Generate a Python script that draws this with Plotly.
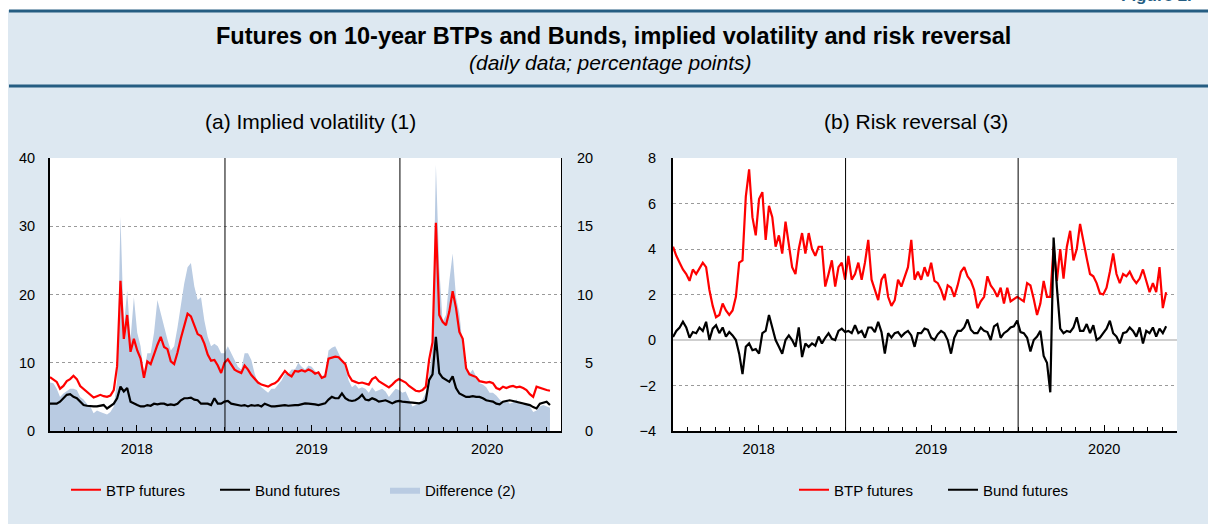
import plotly.graph_objects as go
import pandas as pd

W, H = 1208, 524


def fx(px):
    return px / W


def fy(py):
    return 1 - py / H


# ---------------- data (weekly readings, Jan 2018 - Nov 2020) ----------------
dates = pd.date_range("2018-01-01", periods=150, freq="7D")

btp_vol = [
    7.9, 7.5, 7.2, 6.2, 6.6, 7.3, 7.6, 8.1, 7.6, 6.6,
    6.2, 5.8, 5.4, 4.9, 5.1, 5.3, 5.1, 5.0, 5.2, 6.0,
    9.5, 22.0, 13.5, 17.0, 11.6, 13.5, 11.8, 10.6, 7.8, 10.2,
    9.8, 11.3, 12.6, 13.8, 12.3, 12.0, 10.2, 9.8, 11.5, 13.6,
    15.6, 17.2, 16.8, 15.5, 14.2, 13.9, 12.8, 11.2, 10.3, 10.4,
    9.6, 8.5, 10.0, 10.5, 9.7, 9.0, 8.7, 8.5, 9.6, 9.0,
    8.2, 7.6, 7.1, 6.8, 6.6, 6.5, 6.8, 7.0, 7.4, 8.2,
    8.8, 8.3, 8.0, 8.8, 8.7, 8.9, 8.7, 9.0, 8.8, 8.4,
    8.6, 7.8, 8.0, 10.6, 10.7, 10.9, 10.8, 10.3, 9.8, 8.2,
    7.4, 7.2, 7.0, 7.1, 6.9, 6.8, 7.6, 7.9, 7.3, 7.0,
    6.6, 6.4, 6.8, 7.3, 7.6, 7.3, 7.1, 6.6, 6.2, 5.9,
    5.8, 6.0, 6.5, 10.5, 13.0, 30.5, 17.0, 16.0, 15.5, 17.5,
    20.5, 18.0, 14.5, 13.5, 9.2, 8.3, 8.1, 7.9, 7.3, 7.2,
    7.1, 7.2, 7.0, 6.3, 6.1, 6.5, 6.3, 6.5, 6.6, 6.4,
    6.5, 6.3, 6.0, 5.4, 5.0, 6.5, 6.3, 6.2, 6.0, 5.9,
]

bund_vol = [
    4.0, 4.0, 4.0, 4.3, 4.8, 5.3, 5.4, 5.0, 4.8, 4.3,
    3.8, 3.7, 3.6, 3.6, 3.6, 3.7, 3.8, 3.3, 3.6, 4.0,
    4.8, 6.5, 5.8, 6.3, 4.3, 4.0, 3.8, 3.6, 3.6, 3.8,
    3.7, 4.0, 3.9, 4.0, 4.0, 3.8, 3.9, 3.8, 4.0, 4.5,
    4.8, 4.8, 4.9, 4.6, 4.5, 4.0, 4.0, 4.0, 3.8, 4.8,
    4.0, 4.0, 4.3, 4.4, 4.0, 3.9, 3.8, 3.7, 3.8, 3.6,
    3.8, 3.7, 3.8, 3.6, 4.0, 3.8, 3.6, 3.6, 3.7, 3.8,
    3.8, 3.7, 3.8, 3.8, 3.8, 3.9, 4.05, 4.0, 4.0, 3.9,
    3.8, 3.9, 4.05, 4.6, 5.0, 4.8, 4.8, 5.5, 4.8, 4.5,
    4.4, 4.5, 4.8, 5.3, 4.6, 4.5, 4.8, 4.6, 4.3, 4.4,
    4.5, 4.3, 4.05, 4.3, 4.4, 4.3, 4.3, 4.2, 4.15, 4.1,
    4.05, 4.2, 4.5, 7.5, 8.3, 13.8, 8.5, 7.8, 7.5, 7.2,
    8.0, 6.3, 5.5, 5.2, 5.0, 5.0, 5.1, 5.0, 5.0, 4.8,
    4.5, 4.4, 4.3, 4.0, 3.9, 4.3, 4.4, 4.5, 4.4, 4.3,
    4.2, 4.05, 3.9, 3.8, 3.5, 3.3, 4.0, 4.2, 4.3, 3.8,
]

diff_vol = [
    3.55, 3.5, 3.1, 2.5, 2.75, 2.9, 3.1, 3.1, 3.0, 2.5,
    2.3, 2.0, 1.8, 1.3, 1.5, 1.4, 1.3, 1.2, 1.4, 1.8,
    3.7, 15.7, 7.6, 10.3, 6.7, 9.8, 7.2, 6.2, 4.2, 5.7,
    5.7, 7.2, 9.6, 8.6, 7.6, 6.7, 5.9, 6.2, 7.6, 9.4,
    10.8, 12.0, 12.3, 10.6, 9.6, 9.8, 8.1, 6.9, 6.2, 6.4,
    6.2, 5.7, 5.7, 6.2, 5.7, 5.1, 4.7, 4.5, 5.7, 5.7,
    5.2, 4.2, 3.5, 3.2, 3.0, 2.8, 3.1, 3.1, 3.4, 3.7,
    4.2, 4.2, 4.5, 4.5, 5.0, 4.7, 4.5, 4.8, 4.7, 4.4,
    4.2, 4.0, 4.2, 5.9, 6.1, 6.2, 5.7, 5.2, 4.7, 3.7,
    3.2, 3.4, 3.1, 3.2, 3.1, 2.8, 3.2, 2.9, 3.0, 3.1,
    2.9, 2.5, 2.8, 3.1, 3.0, 2.8, 2.9, 2.4, 1.8, 1.9,
    2.0, 2.3, 2.8, 4.2, 6.0, 19.5, 12.0, 8.0, 8.5, 11.0,
    13.0, 9.8, 8.6, 6.2, 4.7, 4.2, 4.5, 4.0, 3.5, 3.4,
    3.2, 2.8, 2.8, 2.6, 2.3, 2.1, 2.3, 2.0, 2.1, 2.3,
    2.0, 1.9, 2.0, 1.8, 1.4, 1.5, 1.8, 1.9, 1.8, 1.7,
]

btp_rr = [
    4.1, 3.7, 3.4, 3.1, 2.9, 2.6, 3.1, 2.9, 3.15, 3.4,
    3.2, 2.2, 1.5, 1.0, 1.1, 1.6, 1.3, 1.1, 1.3, 1.9,
    3.4, 3.5, 6.3, 7.5, 5.4, 4.6, 6.2, 6.5, 4.4, 5.9,
    5.4, 4.1, 4.6, 3.8, 5.2, 4.3, 3.2, 2.9, 4.0, 4.7,
    3.8, 4.7, 4.0, 3.7, 4.1, 4.1, 2.35, 2.9, 3.5, 2.35,
    3.2, 3.4, 2.65, 3.7, 2.65, 2.9, 3.4, 2.65, 3.4, 4.4,
    2.65, 2.2, 1.75, 2.65, 2.9, 1.9, 1.5, 1.75, 2.65, 2.35,
    2.8, 3.2, 4.4, 2.65, 3.0, 2.65, 3.2, 2.8, 3.4, 2.6,
    2.5, 2.2, 1.75, 2.4, 2.3, 1.9, 2.4, 3.0, 3.2, 2.8,
    2.6, 2.2, 1.4, 1.7, 1.9, 2.8, 2.4, 2.2, 1.9, 2.3,
    1.6, 2.3, 1.7, 1.8, 1.9, 1.8, 1.7, 2.5, 2.4, 1.8,
    1.1, 1.6, 2.6, 1.9, 1.9, 4.1, 2.6, 4.0, 2.7, 4.1,
    4.8, 3.5, 4.0, 5.1, 4.3, 3.6, 2.9, 2.8, 2.5, 2.05,
    2.0, 2.3, 3.0, 3.8, 2.9, 2.5, 2.9, 2.8, 3.0, 2.7,
    2.5, 2.7, 3.1, 2.6, 2.1, 2.5, 2.1, 3.2, 1.4, 2.1,
]

bund_rr = [
    0.13, 0.4, 0.55, 0.8, 0.55, 0.1, 0.35, 0.3, 0.55, 0.4,
    0.8, 0.0, 0.5, 0.65, 0.3, 0.55, 0.15, 0.35, 0.2, 0.0,
    -0.6, -1.5, -0.3, -0.15, -0.45, -0.4, -0.6, 0.3, 0.4, 1.1,
    0.55, 0.0, -0.3, -0.6, 0.0, 0.2, 0.0, -0.3, 0.55, -0.75,
    -0.15, -0.3, -0.15, -0.25, 0.15, -0.15, 0.1, 0.3, 0.05, 0.0,
    0.4, 0.5, 0.35, 0.4, 0.3, 0.65, 0.3, 0.4, 0.1, 0.55,
    0.55, 0.35, 0.8, 0.35, -0.6, 0.3, 0.1, 0.3, 0.35, 0.15,
    0.3, 0.4, 0.2, -0.3, 0.3, 0.3, 0.5, 0.45, 0.1, 0.0,
    0.25, 0.4, 0.3, 0.0, -0.6, 0.1, 0.4, 0.4, 0.55, 0.9,
    0.45, 0.3, 0.3, 0.55, 0.4, 0.35, 0.0, 0.6, 0.7, 0.1,
    0.3, 0.4, 0.55, 0.6, 0.85, 0.35, 0.3, 0.1, -0.5, 0.0,
    0.15, 0.4, -0.7, -1.0, -2.3, 4.5, 2.3, 0.5, 0.3, 0.4,
    0.35, 0.55, 1.0, 0.4, 0.4, 0.7, 0.3, 0.65, 0.0, 0.1,
    0.3, 0.5, 0.85, 0.3, 0.15, -0.15, 0.3, 0.35, 0.55, 0.4,
    0.15, 0.55, -0.15, 0.4, 0.3, 0.55, 0.15, 0.5, 0.3, 0.6,
]

year_ticks = ["2018-07-01", "2019-07-01", "2020-07-01"]
year_labels = ["2018", "2019", "2020"]
year_breaks = ["2019-01-01", "2020-01-01"]
x_range = ["2018-01-01", "2020-12-02"]

vol_left_ticks = [0, 10, 20, 30, 40]
vol_right_ticks = [0, 5, 10, 15, 20]
rr_ticks = [-4, -2, 0, 2, 4, 6, 8]

# ---------------- styles ----------------
RED = "#ff0000"
BLACK = "#000000"
AREA = "#b9cbe2"
BG = "#dde8f1"
NAVY = "#255d82"
GRID = "#9a9a9a"
FONT = "Liberation Sans, Arial, Helvetica, sans-serif"
TICK_SIZE = 14.5
FIG_SP = "\u2007"   # figure space (digit width)
PUNC_SP = "\u2008"  # punctuation space (about a hyphen wide)


def right_aligned(vals):
    """Pad labels so that right-side tick labels line up on the right."""
    has_neg = any(v < 0 for v in vals)
    width = max(len(str(abs(v))) for v in vals)
    out = []
    for v in vals:
        s = str(abs(v))
        pad = FIG_SP * (width - len(s))
        sign = "-" if v < 0 else (PUNC_SP if has_neg else "")
        out.append(pad + sign + s)
    return out


fig = go.Figure()

# ---- panel (a): implied volatility ----
fig.add_trace(go.Scatter(
    x=dates, y=diff_vol, xaxis="x", yaxis="y", mode="lines",
    fill="tozeroy", fillcolor=AREA, line=dict(width=0, color=AREA),
    name="Difference (2)", legend="legend3", hoverinfo="skip"))
fig.add_trace(go.Scatter(
    x=dates, y=bund_vol, xaxis="x", yaxis="y2", mode="lines",
    line=dict(color=BLACK, width=2.2), name="Bund futures", legend="legend2"))
fig.add_trace(go.Scatter(
    x=dates, y=btp_vol, xaxis="x", yaxis="y2", mode="lines",
    line=dict(color=RED, width=2.2), name="BTP futures", legend="legend"))

# ---- panel (b): risk reversal ----
fig.add_trace(go.Scatter(
    x=dates, y=btp_rr, xaxis="x2", yaxis="y3", mode="lines",
    line=dict(color=RED, width=2.2), name="BTP futures", legend="legend4"))
fig.add_trace(go.Scatter(
    x=dates, y=bund_rr, xaxis="x2", yaxis="y3", mode="lines",
    line=dict(color=BLACK, width=2.2), name="Bund futures", legend="legend5"))

ydom = [fy(431), fy(158)]
tickfont = dict(size=TICK_SIZE, color=BLACK)

xcommon = dict(
    type="date", range=x_range, tickmode="array", tickvals=year_ticks,
    ticktext=year_labels, ticks="inside", ticklen=6, tickcolor=BLACK,
    tickwidth=1, showgrid=False, zeroline=False, showline=True,
    linecolor=BLACK, linewidth=2, mirror=False, automargin=False,
    tickfont=tickfont, ticklabelstandoff=4,
    minor=dict(tickmode="linear", tick0="2018-01-01", dtick="M1",
               ticks="inside", ticklen=4, tickcolor=BLACK, tickwidth=1,
               showgrid=False),
)

fig.update_layout(
    xaxis=dict(domain=[fx(50), fx(561)], anchor="y", **xcommon),
    yaxis=dict(domain=ydom, anchor="x", side="right", range=[0, 20],
               tickmode="array", tickvals=vol_right_ticks,
               ticktext=right_aligned(vol_right_ticks), ticks="",
               showgrid=False, zeroline=False, showline=True,
               linecolor=BLACK, linewidth=1, automargin=False,
               tickfont=tickfont, ticklabelstandoff=12),
    yaxis2=dict(overlaying="y", side="left", anchor="x", range=[0, 40],
                tickmode="array", tickvals=vol_left_ticks, ticks="",
                showgrid=True, gridcolor=GRID, griddash="dot", gridwidth=1,
                zeroline=False, showline=True, linecolor=BLACK, linewidth=2,
                automargin=False, tickfont=tickfont, ticklabelstandoff=10),
    xaxis2=dict(domain=[fx(673), fx(1177)], anchor="y3", **xcommon),
    yaxis3=dict(domain=ydom, anchor="x2", range=[-4, 8], tickmode="array",
                tickvals=rr_ticks, ticks="", showgrid=True, gridcolor=GRID,
                griddash="dot", gridwidth=1, zeroline=True,
                zerolinecolor="#cfcfcf", zerolinewidth=2, showline=True,
                linecolor=BLACK, linewidth=2, automargin=False,
                tickfont=tickfont, ticklabelstandoff=12),
    yaxis4=dict(overlaying="y3", side="right", anchor="x2", range=[-4, 8],
                tickmode="array", tickvals=rr_ticks,
                ticktext=right_aligned(rr_ticks), ticks="", showgrid=False,
                zeroline=False, showline=True, linecolor=BLACK, linewidth=1,
                automargin=False, tickfont=tickfont, ticklabelstandoff=14),
)

legend_common = dict(orientation="h", yanchor="middle", y=fy(490),
                     xanchor="left", bgcolor="rgba(0,0,0,0)", borderwidth=0,
                     font=dict(size=15, color=BLACK, family=FONT))
fig.update_layout(
    legend=dict(x=fx(66), **legend_common),
    legend2=dict(x=fx(215), **legend_common),
    legend3=dict(x=fx(385), **legend_common),
    legend4=dict(x=fx(794), **legend_common),
    legend5=dict(x=fx(943), **legend_common),
)

shapes = []
# white strips outside the light-blue panel
shapes.append(dict(type="rect", xref="paper", yref="paper", x0=0, x1=1,
                   y0=fy(10), y1=1, fillcolor="white", line=dict(width=0),
                   layer="below"))
shapes.append(dict(type="rect", xref="paper", yref="paper", x0=0, x1=fx(8),
                   y0=0, y1=1, fillcolor="white", line=dict(width=0),
                   layer="below"))
# navy rules
for yy in (11, 86):
    shapes.append(dict(type="line", xref="paper", yref="paper", x0=fx(9), x1=1,
                       y0=fy(yy), y1=fy(yy), line=dict(color=NAVY, width=3)))
# year separators
for xa, ya in (("x", "y"), ("x2", "y3")):
    for d in year_breaks:
        shapes.append(dict(type="line", xref=xa, yref=f"{ya} domain",
                           x0=d, x1=d, y0=0, y1=1,
                           line=dict(color=BLACK, width=1)))

annotations = [
    dict(text="<b>Futures on 10-year BTPs and Bunds, implied volatility and risk reversal</b>",
         x=fx(613), y=fy(36), xref="paper", yref="paper", xanchor="center",
         yanchor="middle", showarrow=False, font=dict(size=23.5, color=BLACK)),
    dict(text="<i>(daily data; percentage points)</i>",
         x=fx(611), y=fy(62), xref="paper", yref="paper", xanchor="center",
         yanchor="middle", showarrow=False, font=dict(size=21, color=BLACK)),
    dict(text="(a) Implied volatility (1)", x=fx(310), y=fy(121), xref="paper",
         yref="paper", xanchor="center", yanchor="middle", showarrow=False,
         font=dict(size=21, color=BLACK)),
    dict(text="(b) Risk reversal (3)", x=fx(916), y=fy(121), xref="paper",
         yref="paper", xanchor="center", yanchor="middle", showarrow=False,
         font=dict(size=21, color=BLACK)),
    dict(text="<b>Figure 2.</b>", x=fx(1119), y=fy(7), xref="paper",
         yref="paper", xanchor="left", yanchor="bottom", showarrow=False,
         font=dict(size=17, color=NAVY)),
]

fig.update_layout(
    width=W, height=H, autosize=False,
    margin=dict(l=0, r=0, t=0, b=0, pad=0, autoexpand=False),
    paper_bgcolor=BG, plot_bgcolor="white",
    font=dict(family=FONT, color=BLACK, size=14),
    shapes=shapes, annotations=annotations, showlegend=True,
    hovermode=False,
)

fig.write_html(
    "out.html",
    config={"displayModeBar": False, "staticPlot": True},
    post_script="document.body.style.margin='0';document.body.style.padding='0';",
)
